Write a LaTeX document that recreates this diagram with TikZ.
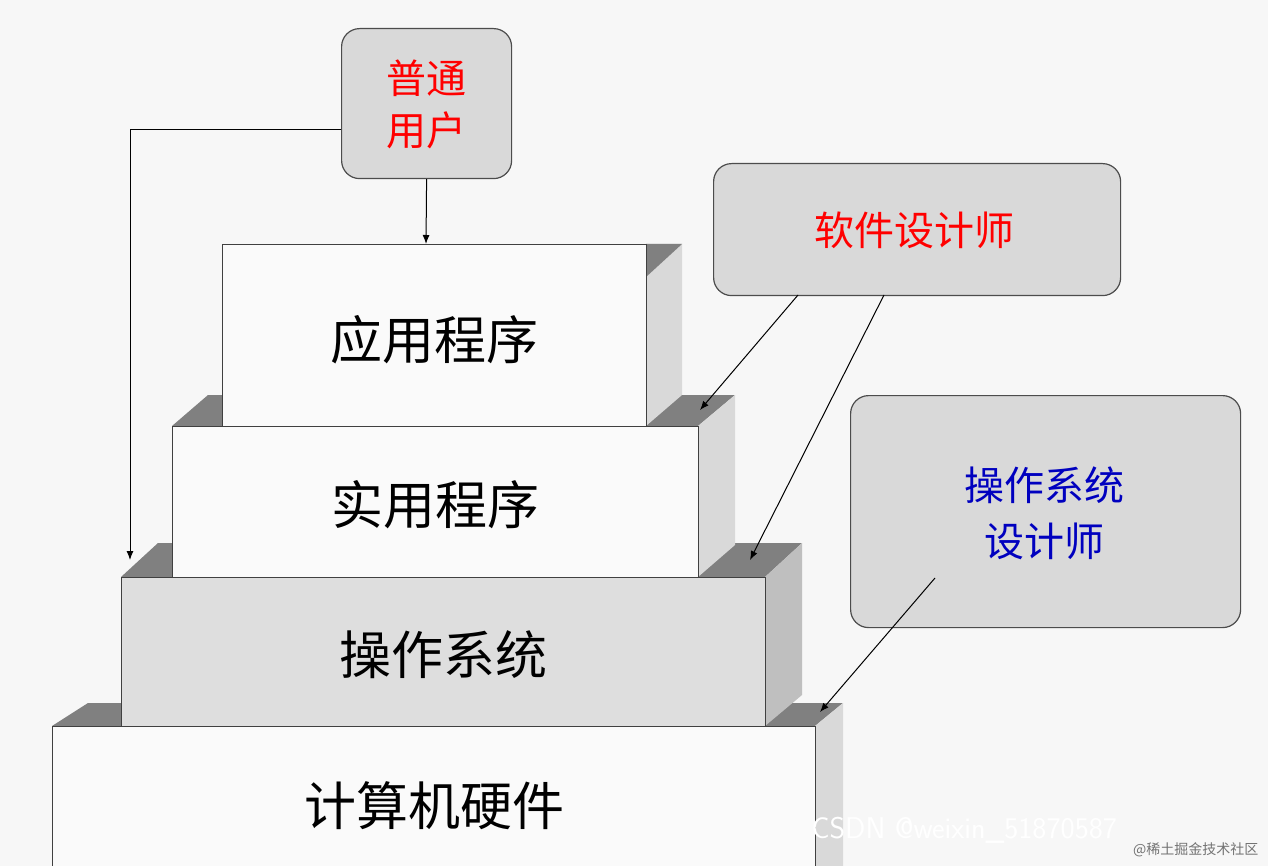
\documentclass[tikz,border=0pt]{standalone}
\usepackage{fontspec}
\usetikzlibrary{arrows.meta}
\newfontfamily\cjk{Noto Sans CJK SC}
\begin{document}
\begin{tikzpicture}[x=1pt,y=-1pt,
  front/.style={draw=black!75,line width=1.2pt},
  topf/.style={fill=black!50},
  sidef/.style={fill=black!15},
  lbl/.style={font=\cjk\fontsize{52}{56}\selectfont},
  call/.style={draw=black!70,line width=1.2pt,fill=black!15,rounded corners=18pt},
  arr/.style={-{Latex[length=9pt,width=7pt]},line width=1pt}]
\fill[black!3] (0,0) rectangle (1268,866);
\useasboundingbox (0,0) rectangle (1268,866);
% hardware
\fill[topf] (52,726)--(88,703)--(843,703)--(815,726)--cycle;
\fill[sidef] (815,726)--(843,703)--(843,866)--(815,866)--cycle;
\node[front,fill=black!2,minimum width=763pt,minimum height=160pt,anchor=north west,inner sep=0pt] (hw) at (52,726) {};
\node[lbl] at (434,806) {计算机硬件};
% OS
\fill[topf] (121,577)--(158,543)--(802,543)--(765,577)--cycle;
\fill[black!25] (765,577)--(802,543)--(802,695)--(765,726)--cycle;
\node[front,fill=black!13,minimum width=644pt,minimum height=149pt,anchor=north west,inner sep=0pt] (os) at (121,577) {};
\node[lbl] at (443,655) {操作系统};
% utilities
\fill[topf] (172,426)--(208,395)--(735,395)--(698,426)--cycle;
\fill[sidef] (698,426)--(735,395)--(735,545)--(698,577)--cycle;
\node[front,fill=black!2,minimum width=526pt,minimum height=151pt,anchor=north west,inner sep=0pt] (ut) at (172,426) {};
\node[lbl] at (435,505) {实用程序};
% apps
\fill[sidef] (646,244)--(682,244)--(682,395)--(646,426)--cycle;
\fill[topf] (646,244)--(682,244)--(646,277)--cycle;
\node[front,fill=black!2,minimum width=424pt,minimum height=182pt,anchor=north west,inner sep=0pt] (app) at (222,244) {};
\node[lbl] at (434,340) {应用程序};
% callouts
\node[call,minimum width=170pt,minimum height=150pt,anchor=north west,inner sep=0pt] (user) at (341,28) {};
\node[text=red,font=\cjk\fontsize{40}{52}\selectfont,align=center] at (426,104) {普通\\用户};
\node[call,minimum width=407pt,minimum height=132pt,anchor=north west,inner sep=0pt] (sd) at (713,163) {};
\node[text=red,font=\cjk\fontsize{40}{44}\selectfont] at (914,230) {软件设计师};
\node[call,minimum width=390pt,minimum height=232pt,anchor=north west,inner sep=0pt] (osd) at (850,395) {};
\node[text=blue!75!black,font=\cjk\fontsize{40}{56}\selectfont,align=center] at (1044,513) {操作系统\\设计师};
% arrows
\coordinate (a1) at (426,244);
\draw[arr] (user.south) -- (a1);
\coordinate (a2) at (130,560);
\draw[arr] (user.west |- 0,130) -- (130,130) -- (a2);
\coordinate (s1) at (798,295); \coordinate (t1) at (700,410);
\coordinate (s2) at (884,295); \coordinate (t2) at (750,560);
\draw[arr] (s1) -- (t1);
\draw[arr] (s2) -- (t2);
\coordinate (s3) at (935,578); \coordinate (t3) at (820,712);
\draw[arr] (s3) -- (t3);
% watermarks
\node[text=white,font=\fontsize{30}{30}\selectfont\sffamily,anchor=west] at (808,830) {CSDN @weixin\_51870587};
\node[text=black!55,font=\cjk\fontsize{14}{14}\selectfont,anchor=east] at (1262,850) {@稀土掘金技术社区};
\end{tikzpicture}
\end{document}
